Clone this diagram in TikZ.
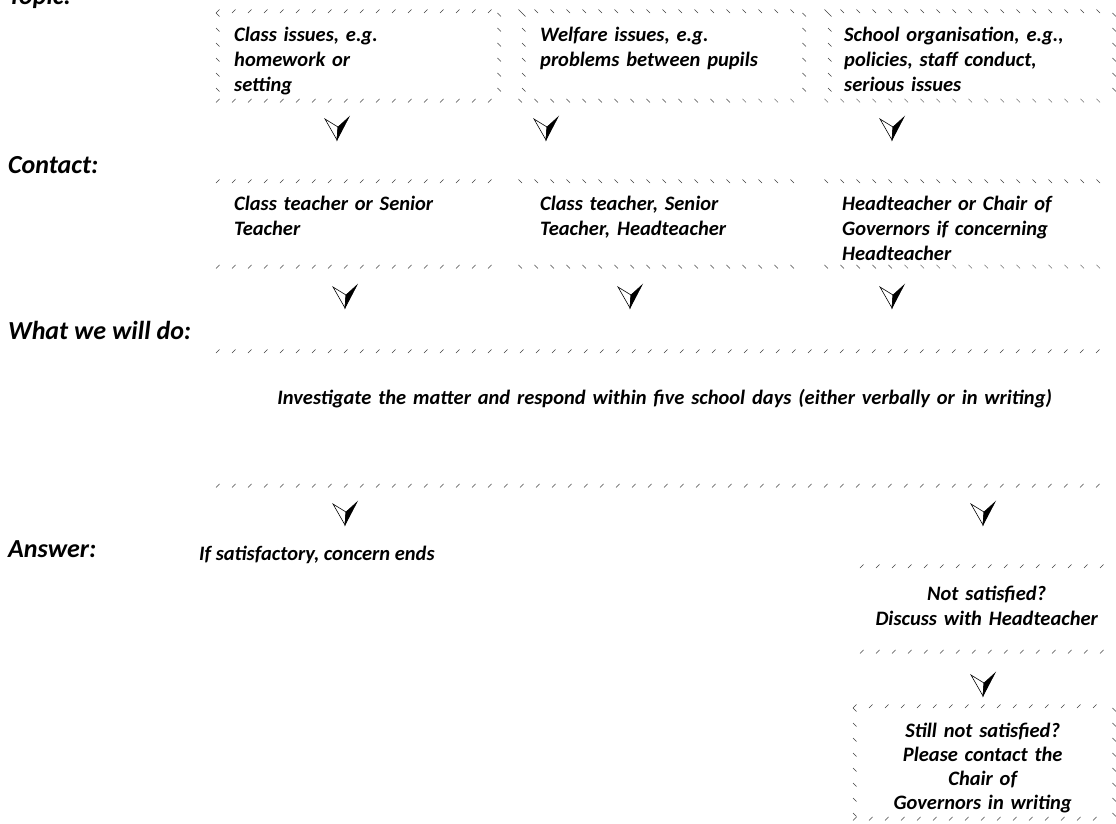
\documentclass[tikz,border=0pt]{standalone}
\usepackage{fontspec}
\setmainfont{Carlito}
\usetikzlibrary{decorations.pathreplacing}

\tikzset{
  lbl/.style={font=\fontsize{26}{30}\selectfont\bfseries\itshape, inner sep=0pt, anchor=base west},
  txt/.style={font=\fontsize{20.5}{25}\selectfont\bfseries\itshape, inner sep=0pt},
  tbox/.style={txt, anchor=north west, align=left, inner xsep=18pt, inner ysep=0pt},
  cbox/.style={tbox, align=center},
  hatchF/.style={decorate, draw=black!75, line width=.5pt,
    decoration={border, segment length=16pt, amplitude=5pt, angle=45}},
  hatchB/.style={hatchF, decoration={angle=135}},
  hatchS/.style={hatchF, decoration={segment length=15pt, amplitude=5pt, angle=45}},
  dtip/.pic={
    \filldraw[fill=white, line width=.6pt] (0,12) -- (-12,-9) -- (1,-1) -- cycle;
    \filldraw[line width=.6pt] (0,12) -- (1,-1) -- (12,-11) -- cycle;
  }
}

\begin{document}
\begin{tikzpicture}[x=1pt, y=-1pt]
  \useasboundingbox (0,0) rectangle (1116,823);

  % row labels
  \node[lbl] (topic) at (8,4) {Topic:};
  \node[lbl] (contact) at (8,173) {Contact:};
  \node[lbl] (todo) at (8,339) {What we will do:};
  \node[lbl] (answer) at (8,557) {Answer:};

  % topics
  \node[tbox, text width=245pt, text height=28pt, text depth=61pt] (t1) at (216,13)
    {Class issues, e.g.\\ homework or\\ setting};
  \node[tbox, text width=244pt, text height=28pt, text depth=61pt] (t2) at (522,13)
    {Welfare issues, e.g.\\ problems between pupils};
  \node[tbox, inner xsep=16pt, text width=252pt, text height=28pt, text depth=61pt] (t3) at (828,13)
    {School organisation, e.g.,\\ policies, staff conduct,\\ serious issues};

  % contacts
  \node[tbox, text width=245pt, text height=27pt, text depth=58pt] (c1) at (216,183)
    {Class teacher or Senior\\ Teacher};
  \node[tbox, text width=244pt, text height=27pt, text depth=58pt] (c2) at (522,183)
    {Class teacher, Senior\\ Teacher, Headteacher};
  \node[tbox, inner xsep=14pt, text width=256pt, text height=27pt, text depth=58pt] (c3) at (828,183)
    {Headteacher or Chair of\\ Governors if concerning\\ Headteacher};

  % what we will do
  \node[cbox, inner xsep=0pt, text width=897pt, text height=51pt, text depth=83pt] (todo box) at (216,353)
    {Investigate the matter and respond within five school days (either verbally or in writing)};

  % answers
  \node[txt, anchor=base west] (ok) at (199,560) {If satisfactory, concern ends};
  \node[cbox, inner xsep=0pt, text width=253pt, text height=32pt, text depth=53pt] (notok) at (860,568)
    {Not satisfied?\\ Discuss with Headteacher};
  \node[cbox, inner xsep=0pt, font=\fontsize{20.5}{24}\selectfont\bfseries\itshape, text width=259pt,
        text height=29pt, text depth=83pt] (still) at (853,708)
    {Still not satisfied?\\ Please contact the\\ Chair of\\ Governors in writing};

  % hatched borders
  \draw[hatchF] (t1.north west) -- (t1.north east);
  \draw[hatchF] (t1.south west) -- (t1.south east);
  \foreach \b in {t2,t3,c2,c3} {
    \draw[hatchB] (\b.north west) -- (\b.north east);
    \draw[hatchB] (\b.south west) -- (\b.south east);
  }
  \foreach \b in {c1,todo box,notok,still} {
    \draw[hatchF] (\b.north west) -- (\b.north east);
    \draw[hatchF] (\b.south west) -- (\b.south east);
  }
  \foreach \b in {t1,t2,t3,still} {
    \draw[hatchS] (\b.north west) -- (\b.south west);
    \draw[hatchS] (\b.north east) -- (\b.south east);
  }

  % arrow heads
  \foreach \x/\y in {337/128, 546/128, 892/128, 345/296, 630/296, 892/296,
                     345/513, 983/513, 983/684}
    \pic at (\x,\y) {dtip};
\end{tikzpicture}
\end{document}
